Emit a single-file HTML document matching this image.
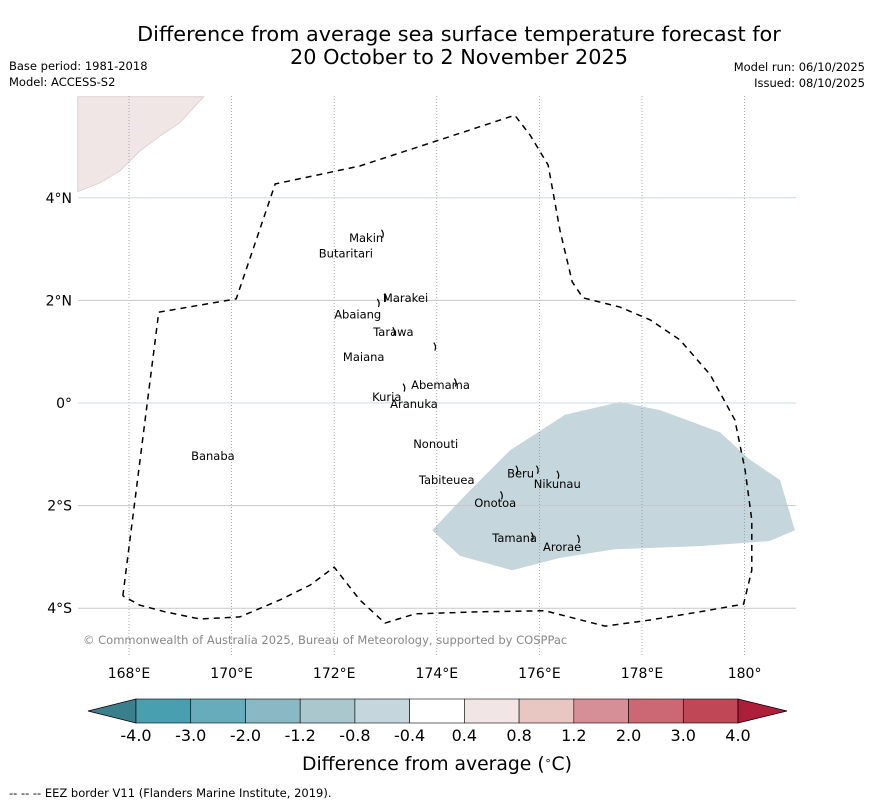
<!DOCTYPE html>
<html><head><meta charset="utf-8"><style>
body{margin:0;background:#fff;font-family:"DejaVu Sans","Liberation Sans",sans-serif}
svg text{font-family:"DejaVu Sans","Liberation Sans",sans-serif}
</style></head><body>
<svg id="c" width="873" height="804" xmlns="http://www.w3.org/2000/svg">
<text x="459" y="41" font-size="20.8" text-anchor="middle">Difference from average sea surface temperature forecast for</text>
<text x="459" y="64" font-size="20.8" text-anchor="middle">20 October to 2 November 2025</text>
<text x="9" y="70" font-size="11.5">Base period: 1981-2018</text>
<text x="9" y="86" font-size="11.5">Model: ACCESS-S2</text>
<text x="865" y="71" font-size="11.5" text-anchor="end">Model run: 06/10/2025</text>
<text x="865" y="87" font-size="11.5" text-anchor="end">Issued: 08/10/2025</text>
<g id="map"></g>
<text x="83" y="644" font-size="11.5" fill="#888">© Commonwealth of Australia 2025, Bureau of Meteorology, supported by COSPPac</text>
<g id="cbar"></g>
<text x="437" y="770" font-size="18.8" text-anchor="middle">Difference from average (<tspan baseline-shift="super" font-size="11">∘</tspan>C)</text>
<text x="9" y="797" font-size="11.5">--  --  -- EEZ border V11 (Flanders Marine Institute, 2019).</text>
</svg>
<script>
const lonTicks=[168,170,172,174,176,178,180];
const lonLabels=["168°E","170°E","172°E","174°E","176°E","178°E","180°"];
const latTicks=[4,2,0,-2,-4];
const latLabels=["4°N","2°N","0°","2°S","4°S"];
const eezLon=[167.88,168.58,170.09,170.85,172.5,174.06,175.52,175.82,176.17,176.4,176.64,176.85,177.57,178.16,178.74,179.33,179.81,180.01,180.14,180.14,179.98,179.13,178.16,177.28,176.11,174.84,173.58,172.99,172.5,172.0,171.53,170.94,170.16,169.38,168.7,168.21,167.88];
const eezLat=[-3.76,1.77,2.03,4.27,4.62,5.13,5.61,5.22,4.64,3.37,2.36,2.05,1.87,1.62,1.23,0.55,-0.33,-1.31,-2.28,-3.26,-3.92,-4.07,-4.23,-4.35,-4.05,-4.07,-4.11,-4.29,-3.84,-3.2,-3.55,-3.84,-4.17,-4.21,-4.07,-3.94,-3.76];
const anomLon=[173.91,174.45,175.47,176.4,177.47,179.13,180.49,180.98,180.69,180.11,179.52,178.35,177.57,176.5,175.43,174.65];
const anomLat=[-2.48,-2.98,-3.26,-3.02,-2.85,-2.79,-2.69,-2.48,-1.5,-1.11,-0.57,-0.14,0.02,-0.23,-0.92,-1.7];
const landLon=[167.0,167.43,167.82,168.21,168.6,168.99,169.38,169.46,167.0];
const landLat=[4.12,4.29,4.52,4.91,5.2,5.46,5.89,5.97,5.97];
const islandNames=["Makin","Butaritari","Marakei","Abaiang","Tarawa","Maiana","Abemama","Kuria","Aranuka","Nonouti","Banaba","Beru","Nikunau","Tabiteuea","Onotoa","Tamana","Arorae"];
const islandLon=[172.29,171.7,172.95,172.0,172.76,172.17,173.5,172.74,173.09,173.54,169.21,175.37,175.89,173.65,174.73,175.08,176.07];
const islandLat=[3.22,2.91,2.05,1.73,1.38,0.9,0.35,0.12,-0.02,-0.8,-1.03,-1.37,-1.58,-1.5,-1.95,-2.63,-2.81];
const coastLon=[172.98,173.03,172.9,173.2,174.0,173.4,174.4,175.6,176.0,176.4,175.3,175.9,176.8];
const coastLat=[3.3,2.05,1.95,1.4,1.1,0.3,0.4,-1.3,-1.3,-1.4,-1.8,-2.6,-2.65];
const cbBounds=["-4.0","-3.0","-2.0","-1.2","-0.8","-0.4","0.4","0.8","1.2","2.0","3.0","4.0"];
const cbColors=["#479fb0","#67acba","#8ab8c4","#a9c7cd","#c5d7dc","#ffffff","#f1e6e5","#e8c6c2","#d78f97","#cb6873","#c04856"];
const X=lon=>129+(lon-168)*51.3, Y=lat=>403-lat*51.3;
const NS="http://www.w3.org/2000/svg";
function mk(p,t,a){const e=document.createElementNS(NS,t);for(const k in a)e.setAttribute(k,a[k]);p.appendChild(e);return e;}
const map=document.getElementById('map');
let l=mk(map,'polygon',{points:landLon.map((v,i)=>X(v)+','+Y(landLat[i])).join(' '),fill:'#f0e6e5',stroke:'#d8c8c8','stroke-width':0.7});


let an=mk(map,'polygon',{points:anomLon.map((v,i)=>X(v)+','+Y(anomLat[i])).join(' '),fill:'#c5d7dc'});


lonTicks.forEach((v,i)=>{
 let g=mk(map,'line',{x1:X(v),x2:X(v),y1:96,y2:655,stroke:'#8899a0','stroke-width':0.8,'stroke-dasharray':'1,2'});
 
 
 let t=mk(map,'text',{x:X(v),y:678,'font-size':14,'text-anchor':'middle'});t.textContent=lonLabels[i];
 
 
});
latTicks.forEach((v,i)=>{
 let g=mk(map,'line',{x1:78,x2:796,y1:Y(v),y2:Y(v),stroke:v%4===0&&v!==-4?'#c6dce4':'#c8c8c8','stroke-width':1});
 
 
 let t=mk(map,'text',{x:72,y:Y(v)+5,'font-size':14,'text-anchor':'end'});t.textContent=latLabels[i];
 
 
});
let ez=mk(map,'polyline',{points:eezLon.map((v,i)=>X(v)+','+Y(eezLat[i])).join(' '),fill:'none',stroke:'#000','stroke-width':1.5,'stroke-dasharray':'6,5'});


coastLon.forEach((v,i)=>{
 let c=mk(map,'path',{d:`M${X(v)-3},${Y(coastLat[i])-4} q3,4 1,8`,fill:'none',stroke:'#000','stroke-width':1.2});
 
 
});
islandNames.forEach((n,i)=>{
 let t=mk(map,'text',{x:X(islandLon[i]),y:Y(islandLat[i])+4,'font-size':11.5});t.textContent=n;
 
 
});
const cb=document.getElementById('cbar');
const x0=136,w=(738-136)/cbColors.length;
let la=mk(cb,'polygon',{points:`88,711 ${x0},699 ${x0},723`,fill:'#3a808c',stroke:'#000','stroke-width':0.8});


cbColors.forEach((c,i)=>{
 let r=mk(cb,'rect',{x:x0+i*w,y:699,width:w,height:24,fill:c,stroke:'#000','stroke-width':0.6});
 
 
});
let ra=mk(cb,'polygon',{points:`738,699 738,723 787,711`,fill:'#ad1e3a',stroke:'#000','stroke-width':0.8});


cbBounds.forEach((b,i)=>{
 let t=mk(cb,'text',{x:x0+i*w,y:741,'font-size':16,'text-anchor':'middle'});t.textContent=b;
 
 
});
</script>
</body></html>
